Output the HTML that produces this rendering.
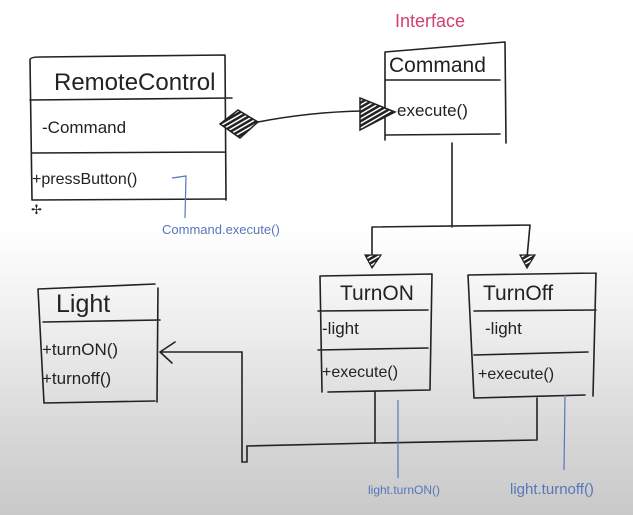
<!DOCTYPE html>
<html><head><meta charset="utf-8"><style>
html,body{margin:0;padding:0}
body{width:633px;height:515px;overflow:hidden;background:linear-gradient(#ffffff 0px,#ffffff 230px,#ededed 330px,#d6d6d6 440px,#c9c9c9 515px)}
svg{position:absolute;left:0;top:0}
text{font-family:"Liberation Sans",sans-serif;fill:#222}
</style></head><body>
<svg width="633" height="515" viewBox="0 0 633 515">
<defs>
<pattern id="h" width="4" height="4" patternUnits="userSpaceOnUse" patternTransform="rotate(60)"><rect width="4" height="4" fill="#fff"/><rect width="2.5" height="4" fill="#222"/></pattern>
</defs>
<g stroke="#222" stroke-width="1.6" fill="none" stroke-linecap="round">
<path d="M30 60 Q30 57 40 57 L225 55 M30 60 L32 200 M225 55 L226 200 M30 100 L232 98 M32 153 L225 152 M32 200 L225 199"/>
<path d="M385 52 L385 140 M385 52 L505 42 M505 42 L506 143 M385 80 L500 80 M385 135 L500 134"/>
<path d="M258 122 Q310 112 362 111"/>
<path d="M452 143 L452 227 M372 227 L530 225 M372 227 L372 258 M530 225 L527 258"/>
<path d="M320 276 L432 274 M320 276 L322 392 M432 274 L430 390 M318 311 L428 310 M318 350 L428 348 M328 392 L430 390"/>
<path d="M468 275 L596 273 M468 275 L474 398 M596 273 L593 396 M474 311 L596 310 M474 355 L588 352 M474 398 L585 395"/>
<path d="M38 289 L155 284 M38 289 L44 403 M158 288 L157 402 M43 322 L160 320 M44 403 L155 401"/>
<path d="M375 392 L375 443 M537 398 L537 440 M375 443 L537 440 M375 443 L247 446 L247 462 M247 462 L242 462 L242 352 L160 352 M160 352 L175 342 M160 352 L172 363"/>
</g>
<path d="M220 124 L238 110 L258 122 L240 138 Z" fill="url(#h)" stroke="#222" stroke-width="1.5"/>
<path d="M360 98 L395 112 L360 130 Z" fill="url(#h)" stroke="#222" stroke-width="1.5"/>
<path d="M365 255 L372 268 L381 255 Z" fill="url(#h)" stroke="#222" stroke-width="1.2"/>
<path d="M520 255 L527 268 L535 255 Z" fill="url(#h)" stroke="#222" stroke-width="1.2"/>
<g stroke="#5577bb" stroke-width="1.2" fill="none">
<path d="M172 178 L186 176 L185 218 M398 400 L398 478 M565 395 L564 470"/>
</g>
<text x="395" y="27" font-size="18" style="fill:#d04070">Interface</text>
<text x="54" y="90" font-size="24">RemoteControl</text>
<text x="42" y="133" font-size="17">-Command</text>
<text x="32" y="184" font-size="16">+pressButton()</text>
<text x="389" y="72" font-size="21">Command</text>
<text x="397" y="116" font-size="17">execute()</text>
<text x="162" y="234" font-size="13" style="fill:#5577bb">Command.execute()</text>
<text x="56" y="312" font-size="25">Light</text>
<text x="42" y="355" font-size="17">+turnON()</text>
<text x="42" y="384" font-size="17">+turnoff()</text>
<text x="340" y="300" font-size="21">TurnON</text>
<text x="322" y="334" font-size="17">-light</text>
<text x="322" y="377" font-size="16">+execute()</text>
<text x="483" y="300" font-size="21">TurnOff</text>
<text x="485" y="334" font-size="17">-light</text>
<text x="478" y="379" font-size="16">+execute()</text>
<text x="368" y="494" font-size="12" style="fill:#5577bb">light.turnON()</text>
<text x="510" y="494" font-size="15" style="fill:#5577bb">light.turnoff()</text>
<text x="31" y="214" font-size="13">✢</text>
</svg>
</body></html>
